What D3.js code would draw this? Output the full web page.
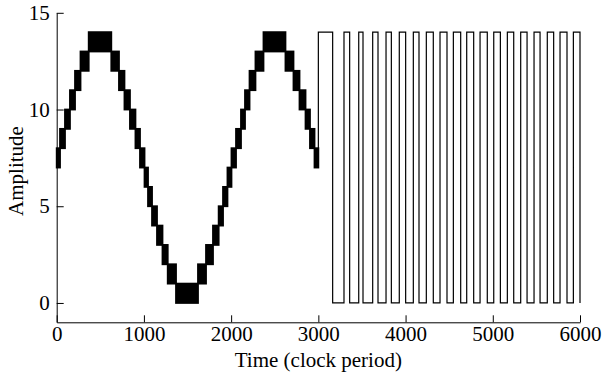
<!DOCTYPE html>
<html>
<head>
<meta charset="utf-8">
<script src="https://cdn.jsdelivr.net/npm/d3@7"></script>
<style>
  body { margin: 0; background: #fff; }
  svg text { font-family: "Liberation Serif", "Times New Roman", serif; fill: #000; }
</style>
</head>
<body>
<div id="chart"></div>
<script>
const xTicks = [0, 1000, 2000, 3000, 4000, 5000, 6000];
const yTicks = [0, 5, 10, 15];

// dithered sine: the output toggles between bandLevel and bandLevel + 1
// from bandFrom to bandTo (clock periods)
const bandLevel = [7, 8, 9, 10, 11, 12, 13, 12, 11, 10, 9, 8, 7,
  6, 5, 4, 3, 2, 1, 0, 1, 2, 3, 4, 5, 6,
  7, 8, 9, 10, 11, 12, 13, 12, 11, 10, 9, 8, 7];
const bandFrom = [0, 38, 95, 152, 210, 273, 367, 626, 714, 777, 840, 903, 955,
  1007, 1047, 1093, 1150, 1213, 1273, 1368, 1620, 1712, 1792, 1857, 1907, 1958,
  2004, 2056, 2113, 2159, 2211, 2279, 2371, 2623, 2715, 2784, 2853, 2904, 2956];
const bandTo = [38, 95, 152, 210, 273, 367, 626, 714, 777, 840, 903, 955, 1007,
  1047, 1093, 1150, 1213, 1273, 1368, 1620, 1712, 1792, 1857, 1907, 1958, 2004,
  2056, 2113, 2159, 2211, 2279, 2371, 2623, 2715, 2784, 2853, 2904, 2956, 3000];

// square wave part: edge times, alternating rise / fall
const squareEdges = [3000, 3164, 3294, 3359, 3463, 3512, 3623, 3684, 3776, 3837,
  3928, 4001, 4089, 4154, 4238, 4318, 4395, 4475, 4548, 4632,
  4701, 4781, 4854, 4937, 5011, 5087, 5167, 5240, 5320, 5393,
  5473, 5542, 5625, 5698, 5771, 5851, 5924, 6000];
const squareStart = 7;
const squareHigh = 14;
const squareLow = 0;

const width = 602, height = 376;

const x = d3.scaleLinear().domain([0, 6000]).range([56.7, 580]);
const y = d3.scaleLinear().domain([-1, 15]).range([322.3, 12.8]);

const svg = d3.select('#chart')
  .append('svg')
    .attr('width', width)
    .attr('height', height);

// sine bands
const bands = bandLevel.map((lv, i) => ({ lv, from: bandFrom[i], to: bandTo[i] }));
svg.append('g')
  .attr('class', 'sine')
  .selectAll('rect')
  .data(bands)
  .enter()
  .append('rect')
    .attr('x', d => x(d.from))
    .attr('width', d => x(d.to) - x(d.from))
    .attr('y', d => y(d.lv + 1))
    .attr('height', d => y(d.lv) - y(d.lv + 1))
    .attr('fill', '#000')
    .attr('stroke', '#000')
    .attr('stroke-width', 1.8);

// square wave
const pts = [[squareEdges[0], squareStart]];
let level = squareStart;
squareEdges.forEach((e, i) => {
  pts.push([e, level]);
  level = i % 2 === 0 ? squareHigh : squareLow;
  pts.push([e, level]);
});
const line = d3.line().x(d => x(d[0])).y(d => y(d[1]));
svg.append('path')
  .attr('d', line(pts))
  .attr('fill', 'none')
  .attr('stroke', '#000')
  .attr('stroke-width', 1.2);

// axes
const xAxis = d3.axisBottom(x)
  .tickValues(xTicks)
  .tickFormat(d3.format('d'))
  .tickSizeInner(-7)
  .tickSizeOuter(0)
  .tickPadding(4);
const yAxis = d3.axisLeft(y)
  .tickValues(yTicks)
  .tickFormat(d3.format('d'))
  .tickSizeInner(-7)
  .tickSizeOuter(0)
  .tickPadding(7);

const gx = svg.append('g')
  .attr('transform', `translate(0,${y(-1)})`)
  .call(xAxis);
const gy = svg.append('g')
  .attr('transform', `translate(${x(0)},0)`)
  .call(yAxis);

[gx, gy].forEach(g => {
  g.attr('font-family', null).attr('font-size', null);
  g.selectAll('path, line').attr('stroke', '#000').attr('stroke-width', 1);
  g.selectAll('text').attr('font-size', 21).attr('fill', '#000');
});

svg.append('text')
  .attr('x', (x(0) + x(6000)) / 2)
  .attr('y', 366.5)
  .attr('text-anchor', 'middle')
  .attr('font-size', 21)
  .text('Time (clock period)');

svg.append('text')
  .attr('transform', 'translate(22.7,171) rotate(-90)')
  .attr('text-anchor', 'middle')
  .attr('font-size', 21)
  .text('Amplitude');
</script>
</body>
</html>
